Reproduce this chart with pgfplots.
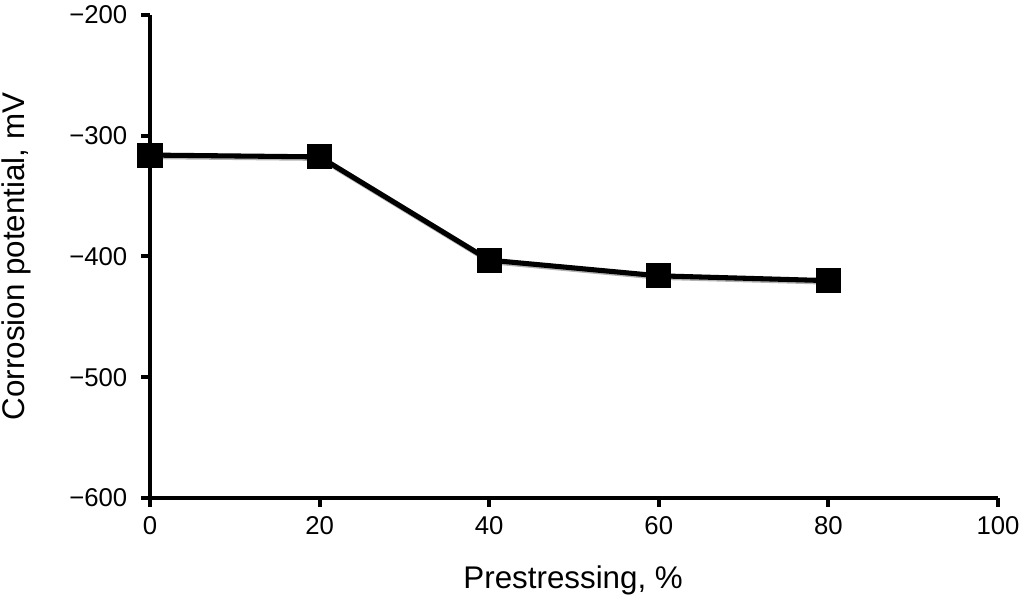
\documentclass[border=0pt]{standalone}
\usepackage{pgfplots}
\pgfplotsset{compat=1.18}
\usepackage{fontspec}
\setmainfont{Liberation Sans}
\begin{document}
\begin{tikzpicture}
\useasboundingbox (-112.5pt,-88.5pt) rectangle (655.5pt,373.5pt);
\begin{axis}[
  at={(0,0)}, anchor=south west,
  scale only axis,
  width=636pt, height=362.25pt,
  xmin=0, xmax=100, ymin=-600, ymax=-200,
  axis lines*=left,
  axis line style={line width=3pt, -},
  every outer x axis line/.append style={line width=3pt},
  every outer y axis line/.append style={line width=3pt},
  xtick={0,20,40,60,80,100},
  ytick={-600,-500,-400,-300,-200},
  yticklabels={−600,−500,−400,−300,−200},
  tick align=outside,
  major tick length=6.5pt,
  every tick/.style={line width=3pt, black},
  /pgf/number format/assume math mode=true,
  ticklabel style={font=\fontsize{19.3}{21}\selectfont},
  xticklabel style={yshift=-4pt},
  yticklabel style={xshift=-7pt},
  xlabel={Prestressing, \%},
  ylabel={Corrosion potential, mV},
  label style={font=\fontsize{23.5}{26}\selectfont},
  xlabel style={at={(axis description cs:0.499,-0.17)}, anchor=center},
  ylabel style={at={(axis description cs:-0.1572,0.5)}, anchor=center},
  clip=false,
]
\addplot[gray!60, line width=4.5pt, mark=none, transform canvas={shift={(0.8pt,-0.8pt)}}]
coordinates {(0,-316) (20,-317.5) (40,-403) (60,-416) (80,-420)};
\addplot[black, line width=3.8pt, mark=square*, mark size=7.5pt, mark options={solid}]
coordinates {(0,-316) (20,-317.5) (40,-403) (60,-416) (80,-420)};
\end{axis}
\end{tikzpicture}
\end{document}
